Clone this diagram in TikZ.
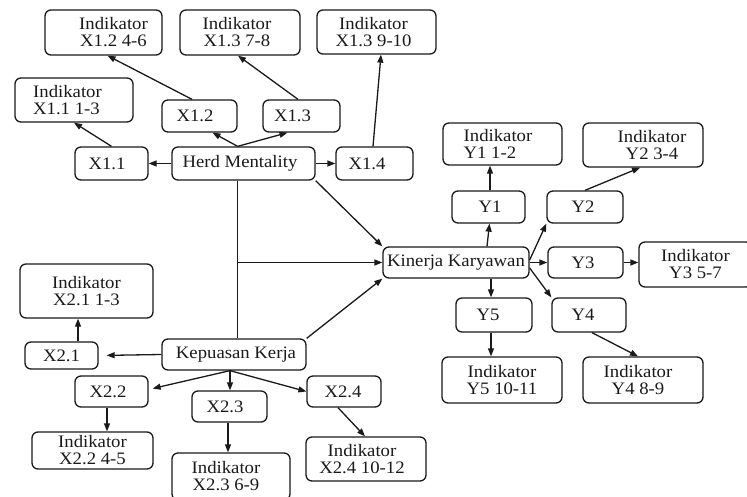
\documentclass[tikz,border=0pt]{standalone}
\usepackage{fontspec}
\setmainfont{Liberation Serif}[FakeStretch=1.07]
\usetikzlibrary{arrows.meta,calc}
\definecolor{ink}{HTML}{1A1A1A}
\newcommand\bx[7]{%
  \node[bx,minimum width=#4pt,minimum height=#5pt] (#1) at (#2,#3) {};
  \node[tx,#6] (#1t) at (#1.center) {#7};}
\begin{document}
\begin{tikzpicture}[x=1pt,y=-1pt,
  bx/.style={draw=ink,line width=1.3pt,rounded corners=6pt,inner sep=0pt,fill=white},
  tx/.style={inner sep=0pt,align=center,text=ink,font=\fontsize{17.5}{17}\selectfont},
  ln/.style={draw=ink,line width=1.3pt},
  arr/.style={ln,-{Triangle[length=8pt,width=6pt]}}]
\clip (0,0) rectangle (747,497);
\fill[white] (0,0) rectangle (747,497);
% boxes
\bx{ix12}{103.5}{32.5}{117}{45}{xshift=10pt}{Indikator\\X1.2 4-6}
\bx{ix13a}{240}{32.5}{120}{45}{xshift=-3pt}{Indikator\\X1.3 7-8}
\bx{ix13b}{376.5}{32}{119}{44}{xshift=-3pt}{Indikator\\X1.3 9-10}
\bx{ix11}{74}{100}{118}{44}{xshift=-6.5pt,align=left}{Indikator\\X1.1 1-3}
\bx{x12}{199.5}{116}{75}{32}{xshift=-4.5pt}{X1.2}
\bx{x13}{301.5}{116}{77}{32}{xshift=-9pt}{X1.3}
\bx{x11}{111.5}{163.5}{73}{33}{xshift=-4.5pt}{X1.1}
\bx{hm}{243.5}{163.5}{143}{33}{xshift=-3.5pt}{Herd Mentality}
\bx{x14}{374.5}{163.5}{77}{33}{xshift=-7.5pt}{X1.4}
\bx{iy1}{502.5}{144}{119}{42}{xshift=-4.5pt,align=left}{Indikator\\Y1 1-2}
\bx{iy2}{643}{145}{120}{44}{xshift=9pt}{Indikator\\Y2 3-4}
\bx{y1}{488.5}{207}{73}{32}{xshift=1.5pt}{Y1}
\bx{y2}{585}{207}{76}{32}{xshift=-2pt}{Y2}
\bx{kk}{456}{262.5}{146}{31}{}{Kinerja Karyawan}
\bx{y3}{585.5}{262.5}{75}{31}{xshift=-2.5pt}{Y3}
\bx{iy3}{695.5}{264.5}{113}{45}{}{Indikator\\Y3 5-7}
\bx{y5}{494}{315}{76}{34}{xshift=-6pt}{Y5}
\bx{y4}{589}{315}{74}{34}{xshift=-6pt}{Y4}
\bx{iy5}{502}{380}{120}{46}{}{Indikator\\Y5 10-11}
\bx{iy4}{643}{380}{120}{46}{xshift=-5pt}{Indikator\\Y4 8-9}
\bx{ix21}{86.5}{291}{133}{54}{}{Indikator\\X2.1 1-3}
\bx{x21}{61.5}{355.5}{73}{27}{}{X2.1}
\bx{kp}{234}{354.5}{144}{31}{xshift=2pt}{Kepuasan Kerja}
\bx{x22}{111.5}{391.5}{73}{31}{xshift=-3.5pt}{X2.2}
\bx{x23}{229.5}{406.5}{75}{31}{xshift=-4.5pt}{X2.3}
\bx{x24}{344}{391.5}{74}{31}{xshift=-1pt}{X2.4}
\bx{ix22}{92.5}{450.5}{121}{37}{}{Indikator\\X2.2 4-5}
\bx{ix23}{231}{476.5}{118}{47}{xshift=-5pt}{Indikator\\X2.3 6-9}
\bx{ix24}{366}{459}{120}{44}{xshift=-4pt}{Indikator\\X2.4 10-12}
% connectors: Herd Mentality
\draw[arr] (hm.west) -- (x11.east);
\draw[arr] (hm.east) -- (x14.west);
\coordinate (hmo) at (hm.north -| x12.east);
\draw[arr] (hmo) -- ([xshift=13pt]x12.south);
\draw[arr] (hmo) -- ([xshift=-14pt]x13.south);
\draw[arr] (x11.north) -- (ix11.south);
\draw[arr] ([xshift=-7.5pt]x12.north) -- ([xshift=4pt]ix12.south);
\draw[arr] ([xshift=-3.5pt]x13.north) -- ([xshift=-2pt]ix13a.south);
\draw[arr] ([xshift=-1.5pt]x14.north) -- ([xshift=4.5pt]ix13b.south);
\draw[ln] (hm.south -| x12.east) -- (kp.north -| x12.east);
\draw[arr] (kk.west -| x12.east) -- (kk.west);
\draw[arr] (hm.south east) -- (kk.north west);
\draw[arr] (kp.north east) -- (kk.south west);
% Kinerja Karyawan
\draw[arr] ([xshift=31pt]kk.north) -- ([xshift=1pt]y1.south);
\coordinate (c1) at ([xshift=1.5pt]y1.north);
\draw[arr] (c1) -- (c1 |- iy1.south);
\draw[arr] ([yshift=2.5pt]kk.east) -- (y2.south west);
\draw[arr] (kk.east) -- (y3.west);
\draw[arr] (y3.east) -- (y3.east -| iy3.west);
\draw[arr] (y2.north) -- ([xshift=-3pt]iy2.south);
\coordinate (c5) at ([xshift=-3pt]y5.north);
\draw[arr] (c5 |- kk.south) -- (c5);
\draw[arr] ([yshift=-5.5pt]kk.east) -- (y4.north west);
\draw[arr] (c5 |- y5.south) -- (c5 |- iy5.north);
\draw[arr] ([xshift=3pt]y4.south) -- ([xshift=-5pt]iy4.north);
% Kepuasan Kerja
\draw[arr,shorten >=8pt] (kp.west) -- (x21.east);
\coordinate (c21) at ([xshift=16.5pt]x21.north);
\draw[arr] (c21) -- (c21 |- ix21.south);
\coordinate (kpo) at ([xshift=-4pt]kp.south);
\draw[arr] (kpo) -- ([xshift=4pt,yshift=3pt]x22.east);
\draw[arr] (kpo) -- (kpo |- x23.north);
\draw[arr] (kpo) -- (x24.west);
\coordinate (c22) at ([xshift=-4.5pt]x22.south);
\draw[arr] (c22) -- (c22 |- ix22.north);
\coordinate (c23) at ([xshift=-1.5pt]x23.south);
\draw[arr] (c23) -- (c23 |- ix23.north);
\draw[arr] ([xshift=-6pt]x24.south) -- ([xshift=-1pt]ix24.north);
\end{tikzpicture}
\end{document}
